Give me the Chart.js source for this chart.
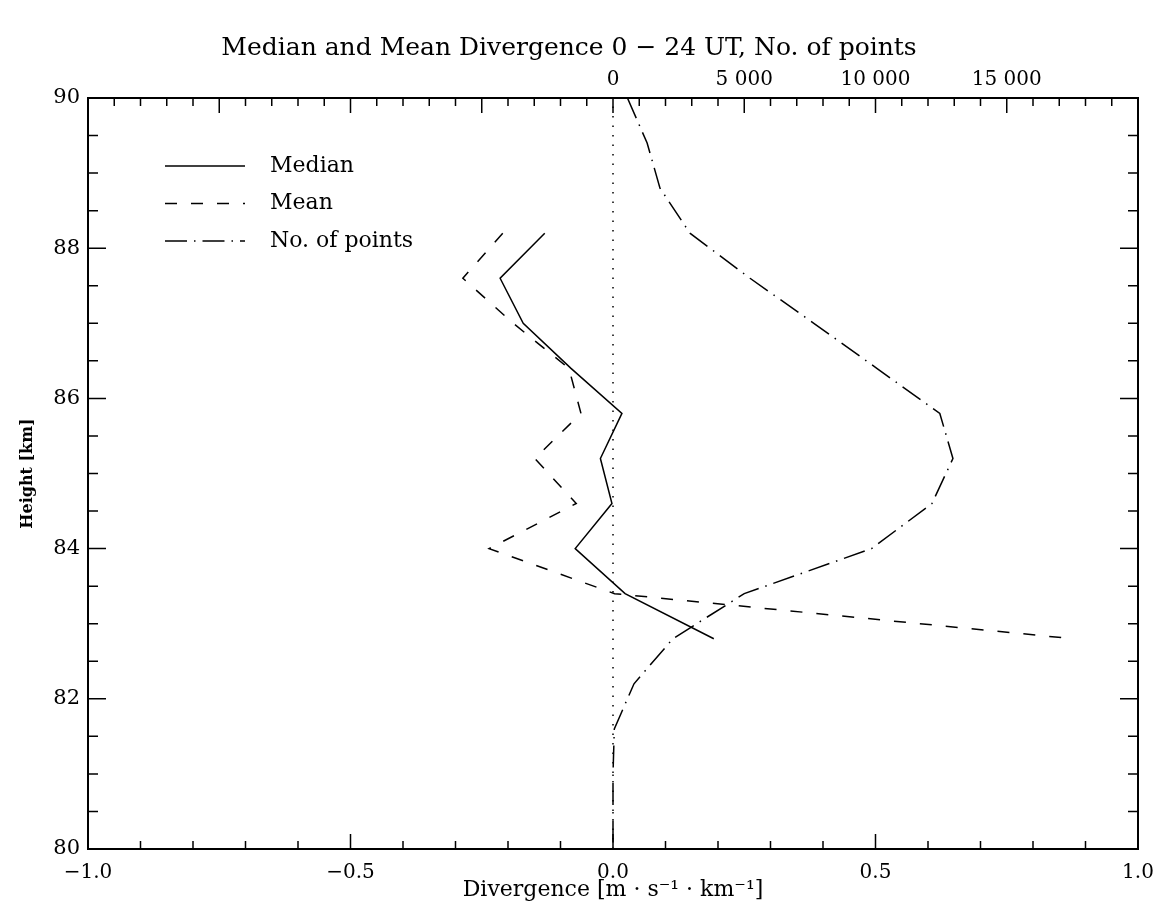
<!DOCTYPE html>
<html>
<head>
<meta charset="utf-8">
<script src="https://cdn.jsdelivr.net/npm/chart.js@4.4.0/dist/chart.umd.min.js"></script>
<style>
  html, body { margin: 0; padding: 0; background: #fff; }
</style>
</head>
<body>
<canvas id="divChart" width="1160" height="913"></canvas>
<script>
// heights [km] of the median / mean profile
var heights = [88.2, 87.6, 87.0, 86.4, 85.8, 85.2, 84.6, 84.0, 83.4, 82.8];
var median  = [-0.13, -0.215, -0.171, -0.08, 0.017, -0.024, -0.002, -0.072, 0.023, 0.192];
var mean    = [-0.21, -0.286, -0.19, -0.084, -0.061, -0.149, -0.07, -0.236, 0.003, 0.876];

// number of points per height (top axis)
var countHeights = [90.0, 89.4, 88.8, 88.2, 87.6, 87.0, 86.4, 85.8, 85.2, 84.6, 84.0, 83.4, 82.8, 82.2, 81.6, 81.0, 80.4, 79.8];
var counts       = [550, 1300, 1790, 2930, 5220, 7650, 10050, 12450, 12950, 12150, 9850, 5000, 2280, 800, 50, 0, 0, 0];

var divTicks = [-1, -0.5, 0, 0.5, 1];
var countLabels = [0, 5000, 10000, 15000];

var FONT = '"DejaVu Serif", serif';

function pairs(xs, ys) {
    return xs.map(function (v, i) { return { x: v, y: ys[i] }; });
}
function fmtDiv(v) {
    return v.toFixed(1).replace('-', '\u2212');
}
function fmtCount(v) {
    return String(v).replace(/\B(?=(\d{3})+(?!\d))/g, ' ');
}

var frameTicks = {
    id: 'frameTicks',
    afterDatasetsDraw: function (chart) {
        var ctx = chart.ctx, a = chart.chartArea, s = chart.scales;
        ctx.save();
        ctx.strokeStyle = '#000';
        ctx.lineWidth = 2;
        ctx.strokeRect(a.left, a.top, a.right - a.left, a.bottom - a.top);
        ctx.lineWidth = 1.5;
        ctx.beginPath();
        var i, px, len;
        for (i = -10; i <= 10; i++) {
            px = s.x.getPixelForValue(i / 10);
            len = (i % 5 === 0) ? 15 : 8;
            ctx.moveTo(px, a.bottom); ctx.lineTo(px, a.bottom - len);
        }
        for (i = -20; i <= 20; i++) {
            px = s.x2.getPixelForValue(i * 1000);
            len = (i % 5 === 0) ? 15 : 8;
            ctx.moveTo(px, a.top); ctx.lineTo(px, a.top + len);
        }
        for (i = 0; i <= 20; i++) {
            px = s.y.getPixelForValue(80 + i * 0.5);
            len = (i % 4 === 0) ? 18 : 10;
            ctx.moveTo(a.left, px); ctx.lineTo(a.left + len, px);
            ctx.moveTo(a.right, px); ctx.lineTo(a.right - len, px);
        }
        ctx.stroke();
        ctx.restore();
    }
};

var legendBox = {
    id: 'legendBox',
    afterDraw: function (chart) {
        var ctx = chart.ctx;
        var rows = chart.data.datasets.filter(function (d) { return d.label; });
        ctx.save();
        ctx.font = '22px ' + FONT;
        ctx.fillStyle = '#000';
        ctx.textBaseline = 'middle';
        rows.forEach(function (d, i) {
            var y = 166 + i * 37.5;
            ctx.strokeStyle = '#000';
            ctx.lineWidth = 1.5;
            ctx.setLineDash(d.borderDash || []);
            ctx.beginPath();
            ctx.moveTo(165, y); ctx.lineTo(245, y);
            ctx.stroke();
            ctx.setLineDash([]);
            ctx.fillText(d.label, 270, y);
        });
        ctx.restore();
    }
};

function noSidePad(sc) {
    sc.paddingLeft = 0;
    sc.paddingRight = 0;
}

var ctx = document.getElementById('divChart');
var myChart = new Chart(ctx, {
    type: 'scatter',
    data: {
        datasets: [
            {
                label: 'Median',
                data: pairs(median, heights),
                showLine: true, borderColor: '#000', borderWidth: 1.5,
                pointRadius: 0, xAxisID: 'x', yAxisID: 'y'
            },
            {
                label: 'Mean',
                data: pairs(mean, heights),
                showLine: true, borderColor: '#000', borderWidth: 1.5, borderDash: [12, 14],
                pointRadius: 0, xAxisID: 'x', yAxisID: 'y'
            },
            {
                label: 'No. of points',
                data: pairs(counts, countHeights),
                showLine: true, borderColor: '#000', borderWidth: 1.5, borderDash: [22, 7, 1.5, 7],
                pointRadius: 0, xAxisID: 'x2', yAxisID: 'y', clip: 0
            },
            {
                label: '',
                data: [{ x: 0, y: 80 }, { x: 0, y: 90 }],
                showLine: true, borderColor: '#000', borderWidth: 1.5, borderDash: [1.5, 8],
                pointRadius: 0, xAxisID: 'x', yAxisID: 'y'
            }
        ]
    },
    options: {
        responsive: false,
        animation: false,
        layout: { padding: { right: 22 } },
        plugins: {
            legend: { display: false },
            tooltip: { enabled: false },
            title: {
                display: true,
                text: 'Median and Mean Divergence 0 \u2212 24 UT, No. of points',
                color: '#000',
                font: { family: FONT, size: 25, weight: 'normal' },
                padding: { top: 33, bottom: 3 }
            }
        },
        scales: {
            x: {
                type: 'linear', position: 'bottom', min: -1, max: 1,
                afterBuildTicks: function (sc) { sc.ticks = divTicks.map(function (v) { return { value: v }; }); },
                ticks: {
                    callback: function (v) { return fmtDiv(v); },
                    color: '#000', font: { family: FONT, size: 20 }, padding: 12,
                    autoSkip: false, maxRotation: 0
                },
                grid: { display: false, drawTicks: false },
                border: { display: false },
                title: {
                    display: true, text: 'Divergence [m \u00b7 s\u207b\u00b9 \u00b7 km\u207b\u00b9]',
                    color: '#000', font: { family: FONT, size: 22 }, padding: { bottom: 10 }
                },
                afterFit: function (sc) { sc.height = 64; noSidePad(sc); }
            },
            x2: {
                type: 'linear', position: 'top', min: -20000, max: 20000,
                afterBuildTicks: function (sc) { sc.ticks = countLabels.map(function (v) { return { value: v }; }); },
                ticks: {
                    callback: function (v) { return fmtCount(v); },
                    color: '#000', font: { family: FONT, size: 20 }, padding: 6,
                    autoSkip: false, maxRotation: 0
                },
                grid: { display: false, drawTicks: false },
                border: { display: false },
                afterFit: function (sc) { sc.height = 32; noSidePad(sc); }
            },
            y: {
                type: 'linear', position: 'left', min: 80, max: 90,
                ticks: {
                    stepSize: 2,
                    color: '#000', font: { family: FONT, size: 21 }, padding: 8
                },
                grid: { display: false, drawTicks: false },
                border: { display: false },
                title: {
                    display: true, text: 'Height [km]',
                    color: '#000', font: { family: FONT, size: 16, weight: 'bold' }, padding: { top: 18 }
                },
                afterFit: function (sc) { sc.width = 88; }
            }
        }
    },
    plugins: [frameTicks, legendBox]
});
</script>
</body>
</html>
